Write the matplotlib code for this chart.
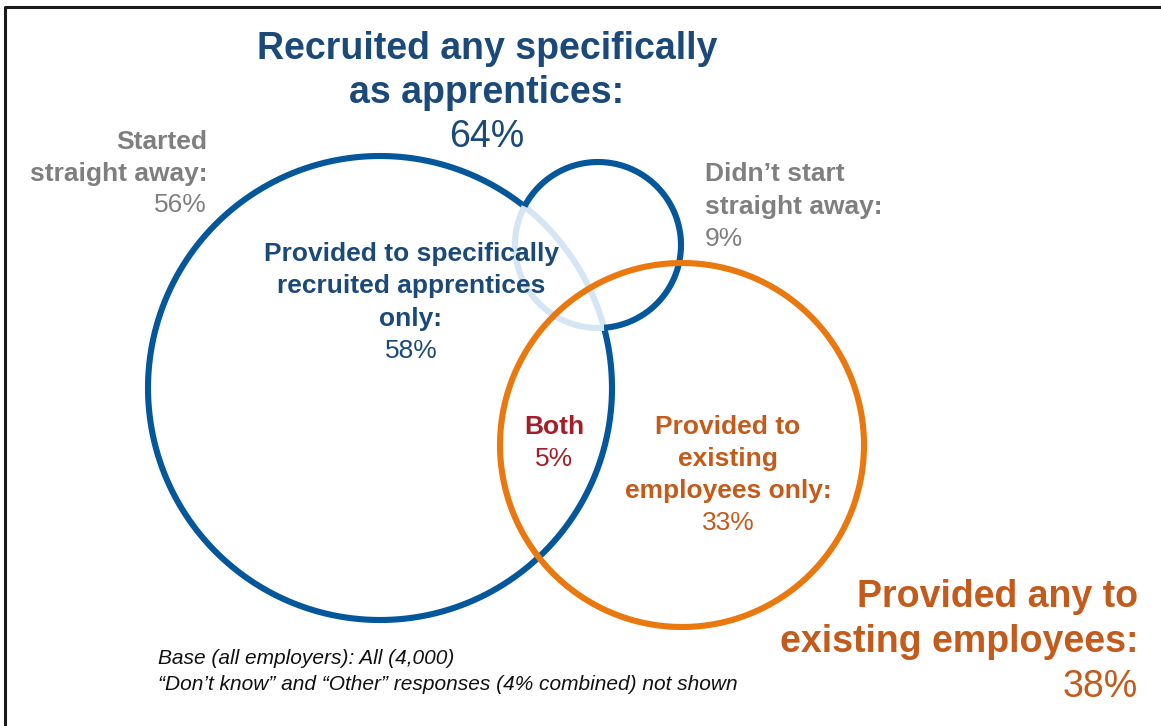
import numpy as np
import matplotlib
matplotlib.use("Agg")
import matplotlib.pyplot as plt

plt.rcParams['font.family'] = ['Liberation Sans', 'DejaVu Sans']

# survey shares (percent of all employers)
recruited_any = 64
started_straight = 56
not_straight = 9
recruited_only = 58
both = 5
existing_only = 33
existing_any = 38

footnotes = ["Base (all employers): All (4,000)",
             "\u201cDon\u2019t know\u201d and \u201cOther\u201d responses (4% combined) not shown"]

navy = '#1b4a7a'
blue = '#03579a'
lens = '#d5e5f3'
orange = '#e9790f'
brown = '#c25b1b'
grey = '#7f7f7f'
red = '#a51e27'

# circle layout in pixel space: (cx, cy, r)
big = (380, 388, 232)
small = (598, 245, 83)
ring = (682, 445, 182)

fig = plt.figure(figsize=(11.61, 7.26), dpi=100)
ax = fig.add_axes([0, 0, 1, 1])
ax.set_xlim(0, 1161)
ax.set_ylim(726, 0)
ax.axis('off')

# frame (only top and left edges are visible)
ax.plot([5, 5, 1170], [740, 7, 7], color='#1a1a1a', lw=2.2, solid_capstyle='butt')


def intersect(c1, c2):
    x1, y1, r1 = c1
    x2, y2, r2 = c2
    d = np.hypot(x2 - x1, y2 - y1)
    a = (r1**2 - r2**2 + d**2) / (2 * d)
    h = np.sqrt(r1**2 - a**2)
    ux, uy = (x2 - x1) / d, (y2 - y1) / d
    bx, by = x1 + a * ux, y1 + a * uy
    return (bx - h * uy, by + h * ux), (bx + h * uy, by - h * ux)


def arc(c, t0, t1, **kw):
    t = np.linspace(t0, t1, 400)
    ax.plot(c[0] + c[2] * np.cos(t), c[1] + c[2] * np.sin(t), solid_capstyle='butt', **kw)


def ang(c, pt):
    return np.arctan2(pt[1] - c[1], pt[0] - c[0])


def split_circle(c, other, pts, lw):
    # outer part of the outline in blue, the part inside the other circle pale
    lo, hi = sorted([ang(c, pts[0]), ang(c, pts[1])])
    mid = (lo + hi) / 2
    inside = np.hypot(c[0] + c[2] * np.cos(mid) - other[0],
                      c[1] + c[2] * np.sin(mid) - other[1]) < other[2]
    if inside:
        arc(c, hi, lo + 2 * np.pi, color=blue, lw=lw)
        arc(c, lo, hi, color=lens, lw=lw)
    else:
        arc(c, lo, hi, color=blue, lw=lw)
        arc(c, hi, lo + 2 * np.pi, color=lens, lw=lw)


lw = 4.4
pts = intersect(big, small)
split_circle(big, small, pts, lw)
split_circle(small, big, pts, lw)
arc(ring, 0, 2 * np.pi, color=orange, lw=lw)

big_font = 27
mid_font = 19


def lines(x, ys, texts, color, size, ha, weights):
    for y, s, w in zip(ys, texts, weights):
        ax.text(x, y, s, color=color, fontsize=size, ha=ha, va='baseline', fontweight=w)


lines(487, [59, 103, 147],
      ["Recruited any specifically", "as apprentices:", f"{recruited_any}%"],
      navy, big_font, 'center', ['bold', 'bold', 'normal'])

lines(207, [149, 181, 212],
      ["Started", "straight away:", f"{started_straight}%"],
      grey, mid_font, 'right', ['bold', 'bold', 'normal'])

lines(705, [181, 214, 246],
      ["Didn\u2019t start", "straight away:", f"{not_straight}%"],
      grey, mid_font, 'left', ['bold', 'bold', 'normal'])

lines(411, [261, 293, 326, 358],
      ["Provided to specifically", "recruited apprentices", "only:", f"{recruited_only}%"],
      navy, mid_font, 'center', ['bold', 'bold', 'bold', 'normal'])

lines(554, [434, 466], ["Both", f"{both}%"], red, mid_font, 'center', ['bold', 'normal'])

lines(728, [434, 466, 498, 530],
      ["Provided to", "existing", "employees only:", f"{existing_only}%"],
      brown, mid_font, 'center', ['bold', 'bold', 'bold', 'normal'])

lines(1138, [607, 652, 697],
      ["Provided any to", "existing employees:", f"{existing_any}%"],
      brown, big_font, 'right', ['bold', 'bold', 'normal'])

for y, s in zip([664, 690], footnotes):
    ax.text(158, y, s, fontsize=15, style='italic', color='#111111', ha='left', va='baseline')

fig.savefig('out.png', dpi=100)
